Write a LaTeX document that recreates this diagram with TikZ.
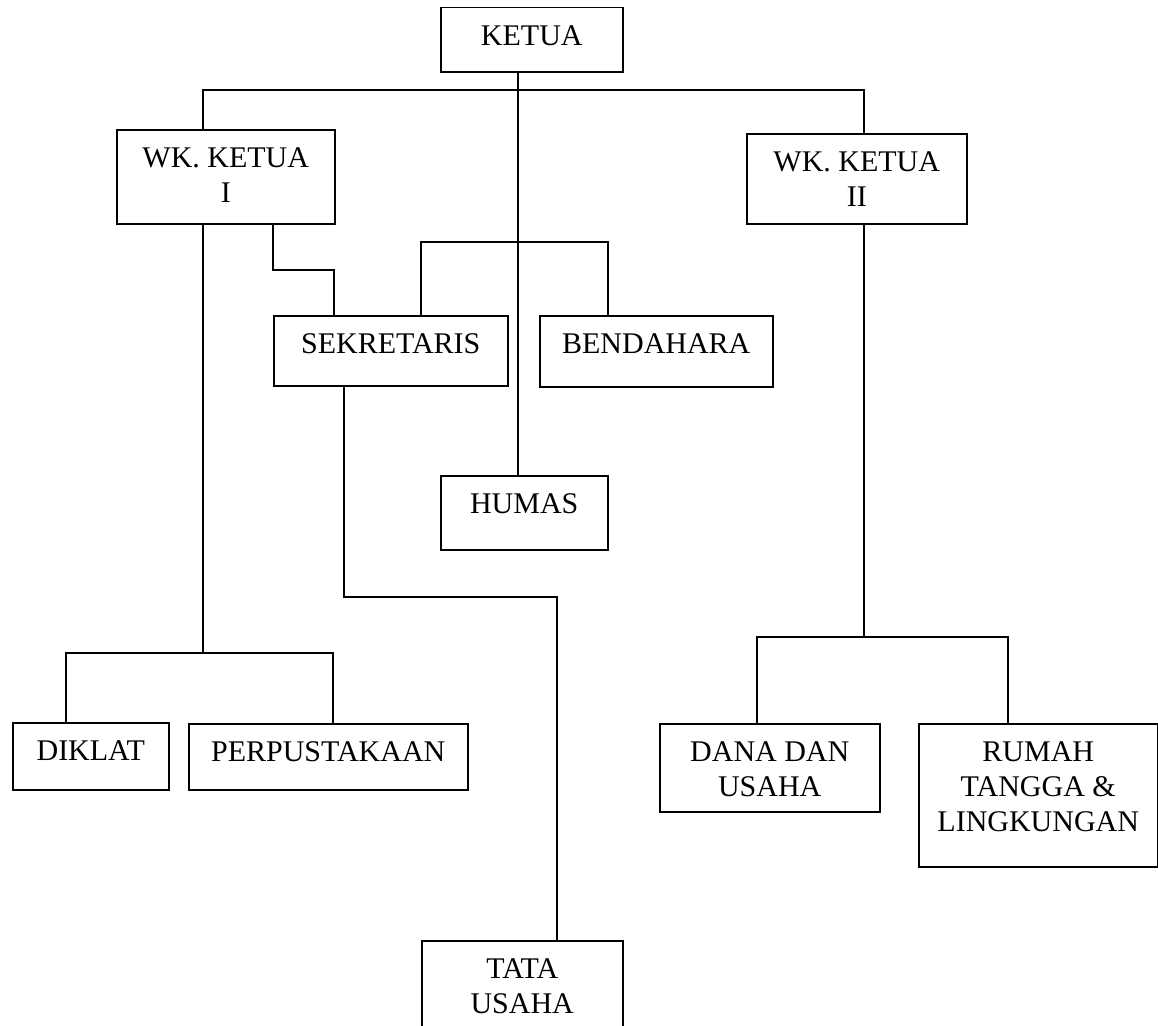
\documentclass[tikz,border=0pt]{standalone}
\usepackage{fontspec}
\setmainfont{Liberation Serif}
\begin{document}
\begin{tikzpicture}[x=1pt,y=-1pt,
  box/.style={draw, line width=1.5pt, rectangle, inner sep=0pt, anchor=north west},
  lbl/.style={font=\fontsize{30}{35}\selectfont, align=center, inner sep=0pt, anchor=north},
  conn/.style={line width=1.5pt}]
\useasboundingbox (0,0) rectangle (1158,1025);
% boxes
\node[box, minimum width=182pt, minimum height=64pt]  (ketua) at (440,7) {};
\node[box, minimum width=218pt, minimum height=94pt]  (wk1)   at (116,129) {};
\node[box, minimum width=220pt, minimum height=90pt]  (wk2)   at (746,133) {};
\node[box, minimum width=234pt, minimum height=70pt]  (sek)   at (273,315) {};
\node[box, minimum width=233pt, minimum height=71pt]  (ben)   at (539,315) {};
\node[box, minimum width=167pt, minimum height=74pt]  (humas) at (440,475) {};
\node[box, minimum width=201pt, minimum height=130pt] (tata)  at (421,940) {};
\node[box, minimum width=156pt, minimum height=67pt]  (diklat) at (12,722) {};
\node[box, minimum width=279pt, minimum height=66pt]  (perp)  at (188,723) {};
\node[box, minimum width=220pt, minimum height=88pt]  (dana)  at (659,723) {};
\node[box, minimum width=239pt, minimum height=143pt] (rumah) at (918,723) {};
% labels
\node[lbl] (tketua) at ([yshift=-18pt]ketua.north) {KETUA};
\node[lbl] (twk1) at ([yshift=-18pt]wk1.north) {WK. KETUA\\I};
\node[lbl] (twk2) at ([yshift=-18pt]wk2.north) {WK. KETUA\\II};
\node[lbl] (tsek) at ([yshift=-18pt]sek.north) {SEKRETARIS};
\node[lbl] (tben) at ([yshift=-18pt]ben.north) {BENDAHARA};
\node[lbl] (thumas) at ([yshift=-18pt]humas.north) {HUMAS};
\node[lbl] (ttata) at ([yshift=-18pt]tata.north) {TATA\\USAHA};
\node[lbl] (tdiklat) at ([yshift=-18pt]diklat.north) {DIKLAT};
\node[lbl] (tperp) at ([yshift=-18pt]perp.north) {PERPUSTAKAAN};
\node[lbl] (tdana) at ([yshift=-18pt]dana.north) {DANA DAN\\USAHA};
\node[lbl] (trumah) at ([yshift=-18pt]rumah.north) {RUMAH\\TANGGA \&\\LINGKUNGAN};
% junction coordinates
\coordinate (kx) at (518,90);
\coordinate (j1) at (203,90);
\coordinate (j2) at (864,90);
\coordinate (s1) at (273,270);
\coordinate (s2) at (334,270);
\coordinate (b1) at (421,242);
\coordinate (b2) at (608,242);
\coordinate (d0) at (203,653);
\coordinate (d1) at (66,653);
\coordinate (d2) at (333,653);
\coordinate (t1) at (344,597);
\coordinate (t2) at (557,597);
\coordinate (r0) at (864,637);
\coordinate (r1) at (757,637);
\coordinate (r2) at (1008,637);
% connectors
\draw[conn] (ketua.south -| kx) -- (humas.north -| kx);
\draw[conn] (wk1.north -| j1) -- (j1) -- (j2) -- (wk2.north -| j2);
\draw[conn] (wk1.south -| s1) -- (s1) -- (s2) -- (sek.north -| s2);
\draw[conn] (sek.north -| b1) -- (b1) -- (b2) -- (ben.north -| b2);
\draw[conn] (wk1.south -| d0) -- (d0);
\draw[conn] (diklat.north -| d1) -- (d1) -- (d2) -- (perp.north -| d2);
\draw[conn] (sek.south -| t1) -- (t1) -- (t2) -- (tata.north -| t2);
\draw[conn] (wk2.south -| r0) -- (r0);
\draw[conn] (dana.north -| r1) -- (r1) -- (r2) -- (rumah.north -| r2);
\end{tikzpicture}
\end{document}
